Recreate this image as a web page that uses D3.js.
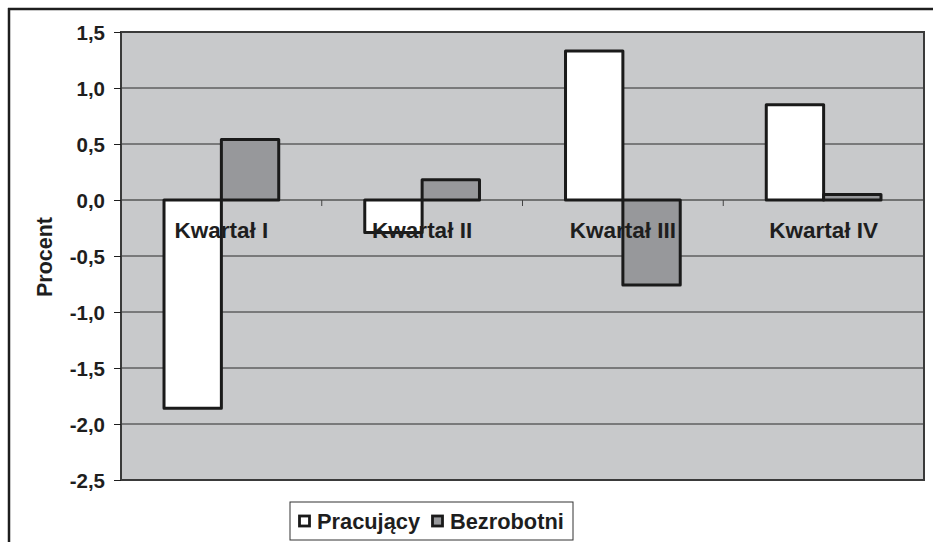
<!DOCTYPE html>
<html>
<head>
<meta charset="utf-8">
<script src="https://cdn.jsdelivr.net/npm/d3@7"></script>
<style>
  html, body { margin: 0; padding: 0; background: #fff; }
  svg text { font-family: "Liberation Sans", Arial, sans-serif; font-weight: bold; fill: #1e1e1e; }
</style>
</head>
<body>
<svg id="chart" width="936" height="542"></svg>
<script>
// Quarterly change (percent) of employed and unemployed
const categories = ["Kwartał I", "Kwartał II", "Kwartał III", "Kwartał IV"];
const seriesNames = ["Pracujący", "Bezrobotni"];
const pracujacy = [-1.86, -0.29, 1.33, 0.85];
const bezrobotni = [0.54, 0.18, -0.76, 0.05];
const yTicks = [1.5, 1.0, 0.5, 0.0, -0.5, -1.0, -1.5, -2.0, -2.5];
const yTitle = "Procent";

const seriesColors = { "Pracujący": "#ffffff", "Bezrobotni": "#97989b" };

const svg = d3.select("#chart");
const plot = { left: 121, right: 924, top: 32, bottom: 480 };

const x0 = d3.scaleBand().domain(categories).range([plot.left, plot.right]).paddingInner(0).paddingOuter(0);
const x1 = d3.scaleBand().domain(seriesNames).range([0, x0.bandwidth()]).paddingInner(0).paddingOuter(0.75);
const y = d3.scaleLinear().domain([-2.5, 1.5]).range([plot.bottom, plot.top]);

const rows = categories.map((c, i) => ({ cat: c, values: [
  { name: seriesNames[0], value: pracujacy[i] },
  { name: seriesNames[1], value: bezrobotni[i] }
]}));

// outer frame (top and left edges)
svg.append("path")
  .attr("d", "M8,9H933M9,8V542")
  .attr("stroke", "#1e1e1e").attr("stroke-width", 2.5).attr("fill", "none");

// plot background
svg.append("rect")
  .attr("x", plot.left).attr("y", plot.top)
  .attr("width", plot.right - plot.left).attr("height", plot.bottom - plot.top)
  .attr("fill", "#c8c9cb");

// horizontal gridlines
svg.append("g").selectAll("line")
  .data(yTicks.filter(t => t !== 1.5 && t !== -2.5 && t !== 0))
  .join("line")
  .attr("x1", plot.left).attr("x2", plot.right)
  .attr("y1", d => y(d)).attr("y2", d => y(d))
  .attr("stroke", "#2a2a2a").attr("stroke-width", 1);

// zero line (category axis)
svg.append("line")
  .attr("x1", plot.left).attr("x2", plot.right)
  .attr("y1", y(0)).attr("y2", y(0))
  .attr("stroke", "#555").attr("stroke-width", 1.5);

// category axis ticks between groups
svg.append("g").selectAll("line")
  .data(categories.slice(1))
  .join("line")
  .attr("x1", d => x0(d)).attr("x2", d => x0(d))
  .attr("y1", y(0)).attr("y2", y(0) + 6)
  .attr("stroke", "#444").attr("stroke-width", 1);

// bars
const groups = svg.append("g").selectAll("g")
  .data(rows).join("g")
  .attr("transform", d => `translate(${x0(d.cat)},0)`);

groups.selectAll("rect")
  .data(d => d.values).join("rect")
  .attr("x", d => x1(d.name))
  .attr("width", x1.bandwidth())
  .attr("y", d => y(Math.max(0, d.value)))
  .attr("height", d => Math.abs(y(d.value) - y(0)))
  .attr("fill", d => seriesColors[d.name])
  .attr("stroke", "#1a1a1a").attr("stroke-width", 3)
  .attr("stroke-linejoin", "round");

// category labels near the zero line
svg.append("g").selectAll("text")
  .data(categories).join("text")
  .attr("x", d => x0(d) + x0.bandwidth() / 2)
  .attr("y", y(0) + 37.5)
  .attr("text-anchor", "middle")
  .attr("font-size", 22.5)
  .text(d => d);

// plot border
svg.append("rect")
  .attr("x", plot.left).attr("y", plot.top)
  .attr("width", plot.right - plot.left).attr("height", plot.bottom - plot.top)
  .attr("fill", "none").attr("stroke", "#3a3a3a").attr("stroke-width", 2);

// y axis
const yAxis = d3.axisLeft(y)
  .tickValues(yTicks)
  .tickSize(7)
  .tickFormat(d => d3.format(".1f")(d).replace(".", ",").replace("−", "-"));
const yg = svg.append("g").attr("transform", `translate(${plot.left},0)`).call(yAxis);
yg.select(".domain").remove();
yg.selectAll(".tick line").attr("stroke", "#1e1e1e").attr("stroke-width", 1);
yg.selectAll(".tick text")
  .attr("x", -16).attr("dy", "0.36em")
  .attr("font-size", 20.5)
  .attr("font-family", null)
  .attr("fill", "#1e1e1e");

// y axis title
svg.append("text")
  .attr("transform", `translate(52,${(plot.top + plot.bottom) / 2 + 1}) rotate(-90)`)
  .attr("text-anchor", "middle")
  .attr("font-size", 21.5)
  .text(yTitle);

// legend
const legend = svg.append("g").attr("transform", "translate(290,502)");
legend.append("rect")
  .attr("x", 0).attr("y", 0).attr("width", 283).attr("height", 38)
  .attr("fill", "#fff").attr("stroke", "#333").attr("stroke-width", 1);
const legendX = [8, 141];
const items = legend.selectAll("g.item")
  .data(seriesNames).join("g").attr("class", "item")
  .attr("transform", (d, i) => `translate(${legendX[i]},0)`);
items.append("rect")
  .attr("x", 1.5).attr("y", 14).attr("width", 10).attr("height", 10)
  .attr("fill", d => seriesColors[d])
  .attr("stroke", "#1a1a1a").attr("stroke-width", 2.8);
items.append("text")
  .attr("x", 19).attr("y", 27)
  .attr("font-size", 21.8)
  .text(d => d);
</script>
</body>
</html>
